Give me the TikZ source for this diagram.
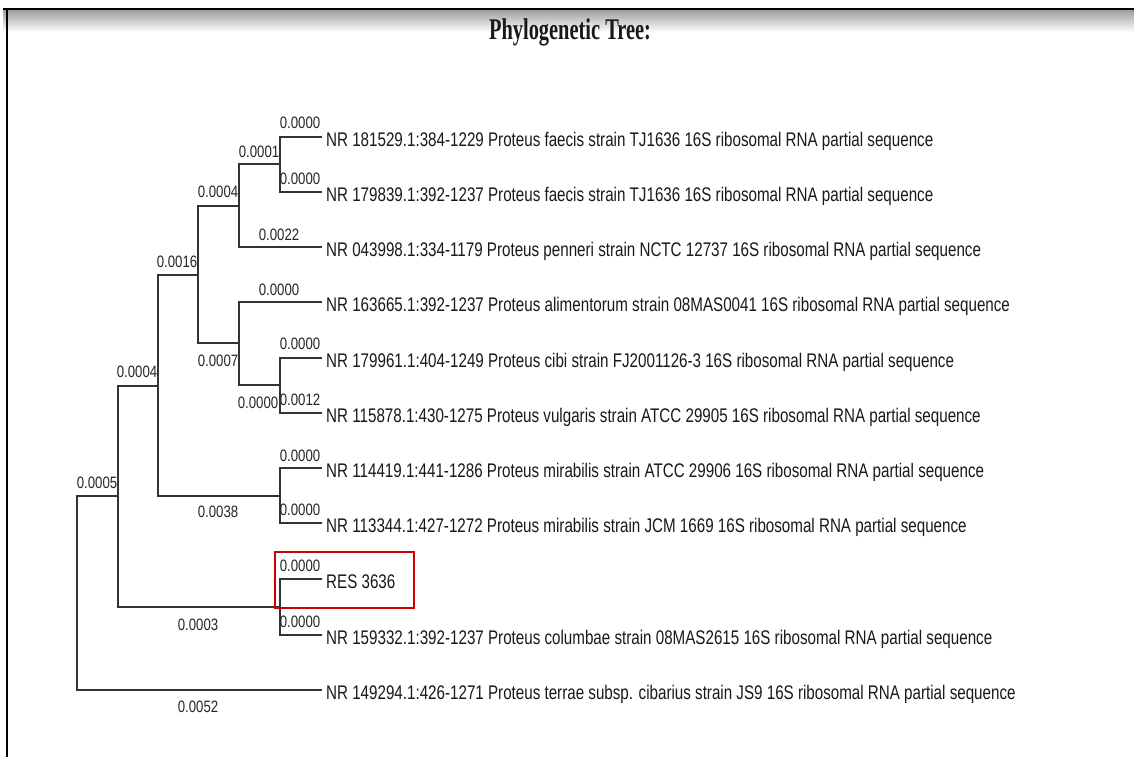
\documentclass[tikz,border=0pt]{standalone}
\usepackage{fontspec}
\newfontfamily\leaffont[FakeStretch=0.77]{Liberation Sans}
\newfontfamily\labfont[FakeStretch=0.8]{Liberation Sans}
\newfontfamily\titlefont[FakeStretch=0.68]{Liberation Serif}
\begin{document}
\begin{tikzpicture}[x=1pt,y=-1pt,
  branch/.style={draw=black!80, line width=1.5pt},
  leaf/.style={anchor=west, inner xsep=4pt, inner ysep=0pt, text height=19pt, text depth=0pt,
     font=\leaffont\fontsize{19.7}{20}\selectfont, text=black!90},
  blen/.style={inner sep=0pt, font=\labfont\fontsize{16.5}{17}\selectfont, text=black!85},
  hlbox/.style={draw=red!80!black, line width=2pt, minimum width=139pt, minimum height=56pt, inner sep=0pt}]
\useasboundingbox (0,0) rectangle (1134,757);
\fill[white] (0,0) rectangle (1134,757);
% frame
\shade[top color=black!38, bottom color=white] (3,10) rectangle (1134,32);
\draw[line width=2.5pt] (3,9) -- (1134,9);
\draw[line width=2.5pt] (7,9) -- (7,757);
% title
\node[font=\titlefont\bfseries\fontsize{30}{30}\selectfont, text=black!90] (title) at (570,32) {Phylogenetic Tree:};
% internal nodes
\coordinate (R) at (77,593);
\coordinate (A) at (118,496);
\coordinate (B) at (158,386);
\coordinate (C) at (198,275);
\coordinate (D) at (239,206);
\coordinate (E) at (280,164);
\coordinate (F) at (239,343);
\coordinate (G) at (280,385);
\coordinate (H) at (280,496);
\coordinate (I) at (280,607);
% leaves
\node[leaf] (L1) at (322,137) {NR 181529.1:384-1229 Proteus faecis strain TJ1636 16S ribosomal RNA partial sequence};
\node[leaf] (L2) at (322,192) {NR 179839.1:392-1237 Proteus faecis strain TJ1636 16S ribosomal RNA partial sequence};
\node[leaf] (L3) at (322,247) {NR 043998.1:334-1179 Proteus penneri strain NCTC 12737 16S ribosomal RNA partial sequence};
\node[leaf] (L4) at (322,302) {NR 163665.1:392-1237 Proteus alimentorum strain 08MAS0041 16S ribosomal RNA partial sequence};
\node[leaf] (L5) at (322,358) {NR 179961.1:404-1249 Proteus cibi strain FJ2001126-3 16S ribosomal RNA partial sequence};
\node[leaf] (L6) at (322,413) {NR 115878.1:430-1275 Proteus vulgaris strain ATCC 29905 16S ribosomal RNA partial sequence};
\node[leaf] (L7) at (322,468) {NR 114419.1:441-1286 Proteus mirabilis strain ATCC 29906 16S ribosomal RNA partial sequence};
\node[leaf] (L8) at (322,523) {NR 113344.1:427-1272 Proteus mirabilis strain JCM 1669 16S ribosomal RNA partial sequence};
\node[leaf] (L9) at (322,579) {RES 3636};
\node[leaf] (L10) at (322,635) {NR 159332.1:392-1237 Proteus columbae strain 08MAS2615 16S ribosomal RNA partial sequence};
\node[leaf] (L11) at (322,690) {NR 149294.1:426-1271 Proteus terrae subsp. cibarius strain JS9 16S ribosomal RNA partial sequence};
% branches
\draw[branch] (R) |- (A);
\draw[branch] (R) |- (L11.west);
\draw[branch] (A) |- (B);
\draw[branch] (A) |- (I);
\draw[branch] (B) |- (C);
\draw[branch] (B) |- (H);
\draw[branch] (C) |- (D);
\draw[branch] (C) |- (F);
\draw[branch] (D) |- (E);
\draw[branch] (D) |- (L3.west);
\draw[branch] (E) |- (L1.west);
\draw[branch] (E) |- (L2.west);
\draw[branch] (F) |- (L4.west);
\draw[branch] (F) |- (G);
\draw[branch] (G) |- (L5.west);
\draw[branch] (G) |- (L6.west);
\draw[branch] (H) |- (L7.west);
\draw[branch] (H) |- (L8.west);
\draw[branch] (I) |- (L9.west);
\draw[branch] (I) |- (L10.west);
% branch lengths
\node[blen] (b1) at (300,123) {0.0000};
\node[blen] (b2) at (259,152) {0.0001};
\node[blen] (b3) at (300,179) {0.0000};
\node[blen] (b4) at (218,192) {0.0004};
\node[blen] (b5) at (279,235) {0.0022};
\node[blen] (b6) at (177,262) {0.0016};
\node[blen] (b7) at (279,290) {0.0000};
\node[blen] (b8) at (300,344) {0.0000};
\node[blen] (b9) at (218,361) {0.0007};
\node[blen] (b10) at (258,403) {0.0000};
\node[blen] (b11) at (300,400) {0.0012};
\node[blen] (b12) at (137,372) {0.0004};
\node[blen] (b13) at (300,456) {0.0000};
\node[blen] (b14) at (97,483) {0.0005};
\node[blen] (b15) at (218,512) {0.0038};
\node[blen] (b16) at (300,510) {0.0000};
\node[blen] (b17) at (300,566) {0.0000};
\node[blen] (b18) at (198,625) {0.0003};
\node[blen] (b19) at (300,622) {0.0000};
\node[blen] (b20) at (198,707) {0.0052};
% highlight box
\node[hlbox] (hl) at (344.5,580) {};
\end{tikzpicture}
\end{document}
